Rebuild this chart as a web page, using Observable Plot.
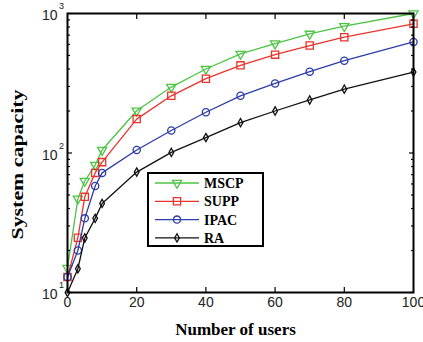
<!DOCTYPE html>
<html>
<head>
<meta charset="utf-8">
<script src="https://cdn.jsdelivr.net/npm/d3@7"></script>
<script src="https://cdn.jsdelivr.net/npm/@observablehq/plot@0.6"></script>
<style>
  html, body { margin: 0; padding: 0; background: #fff; }
  #chart { position: relative; width: 423px; height: 342px; overflow: hidden; }
  #legend { position: absolute; left: 147px; top: 172px; }
</style>
</head>
<body>
<div id="chart"></div>
<script>
// ---- data ----
const users = [0, 3, 5, 8, 10, 20, 30, 40, 50, 60, 70, 80, 100];
const mscp  = [15, 47, 63, 82, 105, 201, 297, 400, 513, 609, 714, 811, 1000];
const supp  = [12.9, 24.7, 48.5, 72, 86, 175, 257, 341, 425, 507, 589, 676, 843];
const ipac  = [12.9, 20, 34, 58, 72, 105, 145, 196, 257, 315, 383, 459, 625];
const ra    = [10, 14.8, 24.6, 34, 43.5, 73, 101, 129, 165, 200, 240, 287, 380];
const seriesNames = ["MSCP", "SUPP", "IPAC", "RA"];
const xTicks = [0, 20, 40, 60, 80, 100];
const yMajor = [10, 100, 1000];
const yExp = ["1", "2", "3"];
const yMinor = [20, 30, 40, 50, 60, 70, 80, 90, 200, 300, 400, 500, 600, 700, 800, 900];
const xLabel = "Number of users";
const yLabel = "System capacity";

const styles = [
  {name: "MSCP", values: mscp, color: "#4cc444", symbol: "triangle", r: 3.4, rotate: 180},
  {name: "SUPP", values: supp, color: "#e8342c", symbol: "square2", r: 4.6, rotate: 0},
  {name: "IPAC", values: ipac, color: "#2c3ca8", symbol: "circle", r: 3.6, rotate: 0},
  {name: "RA",   values: ra,   color: "#111111", symbol: "diamond", r: 2.5, rotate: 0}
];

const rows = [];
for (const s of styles) users.forEach((u, i) => rows.push({series: s.name, x: u, y: s.values[i]}));

const marks = [];
for (const s of styles) {
  const d = rows.filter(r => r.series === s.name);
  marks.push(Plot.line(d, {x: "x", y: "y", stroke: s.color, strokeWidth: 1.3}));
  marks.push(Plot.dot(d, {x: "x", y: "y", stroke: s.color, symbol: s.symbol, r: s.r, rotate: s.rotate, fill: "none", strokeWidth: 1.3}));
}

const tickOpts = {text: null, label: null, stroke: "#000", strokeWidth: 1.2};
const serif = "'Liberation Serif', 'Times New Roman', serif";

const plot = Plot.plot({
  width: 423,
  height: 342,
  marginLeft: 67,
  marginRight: 10,
  marginTop: 13,
  marginBottom: 50,
  style: {fontFamily: "'Liberation Sans', Arial, sans-serif", background: "white", overflow: "visible"},
  x: {domain: [0, 100]},
  y: {type: "log", domain: [10, 1000]},
  marks: [
    ...marks,
    // inward ticks
    Plot.axisX(xTicks.slice(1, -1), {anchor: "bottom", tickSize: -5, ...tickOpts}),
    Plot.axisX(xTicks.slice(1, -1), {anchor: "top", tickSize: -5, ...tickOpts}),
    Plot.axisY(yMajor, {anchor: "left", tickSize: -5, ...tickOpts}),
    Plot.axisY(yMajor, {anchor: "right", tickSize: -5, ...tickOpts}),
    Plot.axisY(yMinor, {anchor: "left", tickSize: -3, ...tickOpts}),
    Plot.axisY(yMinor, {anchor: "right", tickSize: -3, ...tickOpts}),
    // x tick labels
    Plot.axisX(xTicks, {anchor: "bottom", tickSize: 0, tickPadding: 5, fontSize: 14, fill: "#222", label: null}),
    // y tick labels 10^n
    Plot.text(yMajor, {y: d => d, frameAnchor: "left", text: () => "10", textAnchor: "end", dx: -10, dy: 2.5, fontSize: 14, fill: "#222"}),
    Plot.text(yMajor, {y: d => d, frameAnchor: "left", text: (d, i) => yExp[i], textAnchor: "start", dx: -8.5, dy: -7, fontSize: 9, fill: "#222"}),
    Plot.frame({stroke: "#000", strokeWidth: 2}),
    // axis titles
    Plot.text([xLabel], {frameAnchor: "bottom", textAnchor: "middle", lineAnchor: "middle", dy: 37, dx: -5, fontSize: 17, fontWeight: "bold", fontFamily: serif, fill: "#000"}),
    Plot.text([yLabel], {frameAnchor: "left", textAnchor: "middle", lineAnchor: "middle", rotate: -90, dx: -50, dy: 11.5, fontSize: 17, fontWeight: "bold", fontFamily: serif, fill: "#000"})
  ]
});

const chart = document.getElementById("chart");
chart.appendChild(plot);

// the reference's y title is drawn stretched along its length
d3.select(plot).selectAll("text").filter(function() { return this.textContent === yLabel; })
  .attr("textLength", 150).attr("lengthAdjust", "spacingAndGlyphs");

// ---- legend overlay ----
const lw = 117, lh = 75, rowH = 18.3, row0 = 11;
const leg = d3.select(chart).append("svg")
  .attr("id", "legend")
  .attr("width", lw).attr("height", lh);
leg.append("rect").attr("x", 1).attr("y", 1).attr("width", lw - 2).attr("height", lh - 2)
  .attr("fill", "white").attr("stroke", "#000").attr("stroke-width", 2);
const symMap = {triangle: d3.symbolTriangle, square2: d3.symbolSquare2, circle: d3.symbolCircle, diamond: d3.symbolDiamond};
styles.forEach((s, i) => {
  const y = row0 + i * rowH;
  const g = leg.append("g");
  g.append("line").attr("x1", 8).attr("x2", 52).attr("y1", y).attr("y2", y)
    .attr("stroke", s.color).attr("stroke-width", 1.3);
  g.append("path")
    .attr("d", d3.symbol(symMap[s.symbol], Math.PI * s.r * s.r)())
    .attr("transform", `translate(30,${y}) rotate(${s.rotate})`)
    .attr("fill", "none").attr("stroke", s.color).attr("stroke-width", 1.3);
  g.append("text").attr("x", 57).attr("y", y).attr("dy", "0.35em")
    .attr("font-family", serif)
    .attr("font-weight", "bold").attr("font-size", 14).attr("fill", "#000")
    .text(seriesNames[i]);
});
</script>
</body>
</html>
